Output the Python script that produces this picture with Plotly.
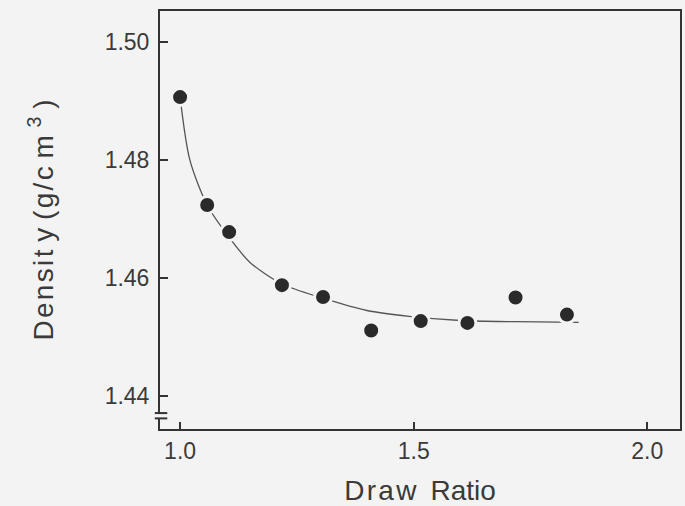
import plotly.graph_objects as go

# Measured density versus draw ratio
draw_ratio = [1.00, 1.058, 1.105, 1.218, 1.306, 1.409, 1.515, 1.615, 1.718, 1.828]
density = [1.4907, 1.4724, 1.4678, 1.4588, 1.4568, 1.4511, 1.4527, 1.4524, 1.4567, 1.4538]

# Hand-drawn trend curve through the data
curve_x = [1.00, 1.021, 1.058, 1.105, 1.149, 1.218, 1.306, 1.40, 1.49, 1.60, 1.72, 1.853]
curve_y = [1.4907, 1.4800, 1.4724, 1.4669, 1.4627, 1.4590, 1.4566, 1.4545, 1.4535, 1.4528, 1.4526, 1.4525]

x_ticks = [1.0, 1.5, 2.0]
x_labels = ["1.0", "1.5", "2.0"]
y_ticks = [1.44, 1.46, 1.48, 1.50]
y_labels = ["1.44", "1.46", "1.48", "1.50"]

BG = "#f4f3f4"
INK = "#333333"
HS = "\u200a"  # hair space for the loosely set axis titles


def spaced(s):
    return HS.join(s)


fig = go.Figure()
fig.add_trace(go.Scatter(
    x=curve_x, y=curve_y, mode="lines",
    line=dict(color="#555555", width=1.3, shape="spline", smoothing=0.8),
    hoverinfo="skip", showlegend=False,
))
fig.add_trace(go.Scatter(
    x=draw_ratio, y=density, mode="markers",
    marker=dict(size=17, color="#2a2a2a", line=dict(color=BG, width=3)),
    showlegend=False,
))

# axis break symbol on the lower end of the y axis
fig.add_shape(type="rect", xref="x domain", yref="y", x0=-0.006, x1=0.006,
              y0=1.4362, y1=1.4371, fillcolor=BG, line=dict(width=0), layer="above")
for yb in (1.4371, 1.4362):
    fig.add_shape(type="line", xref="x domain", yref="y", x0=-0.01, x1=0.014,
                  y0=yb, y1=yb, line=dict(color=INK, width=2), layer="above")

font = dict(family="Liberation Sans, Arial, sans-serif", size=23, color="#3a3a3a")

fig.update_layout(
    width=685, height=506,
    margin=dict(l=160, r=3, t=11, b=77),
    paper_bgcolor=BG, plot_bgcolor=BG,
    font=font,
    xaxis=dict(
        range=[0.957, 2.07], tickvals=x_ticks, ticktext=x_labels,
        ticks="inside", ticklen=7, tickwidth=2, tickcolor=INK,
        showline=True, linecolor=INK, linewidth=2, mirror=True,
        showgrid=False, zeroline=False,
        title=dict(text=spaced("Draw") + "\u2002" + "Ratio", standoff=18),
    ),
    yaxis=dict(
        range=[1.4344, 1.5053], tickvals=y_ticks, ticktext=y_labels,
        ticks="inside", ticklen=8, tickwidth=2, tickcolor=INK,
        showline=True, linecolor=INK, linewidth=2, mirror=True,
        showgrid=False, zeroline=False, ticklabelstandoff=4,
        title=dict(text=spaced("Densit") + " y " + spaced("(g/c") + " m <sup>3</sup> )",
                   standoff=43),
    ),
)

fig.write_html("out.html")
